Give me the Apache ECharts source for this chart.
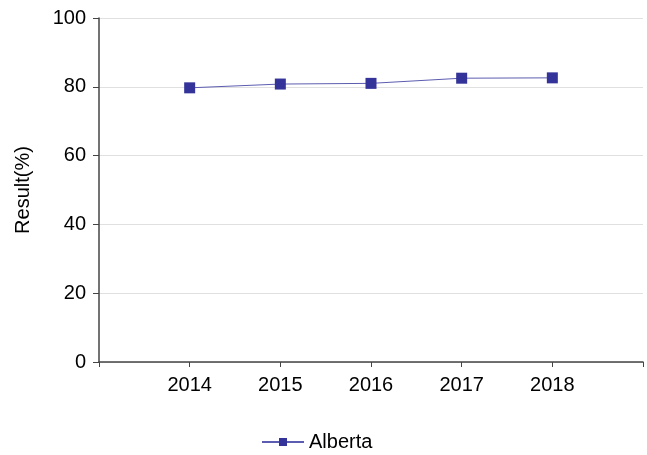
<!DOCTYPE html>
<html>
<head>
<meta charset="utf-8">
<script src="https://cdn.jsdelivr.net/npm/echarts@6/dist/echarts.min.js"></script>
<style>
  html, body { margin: 0; padding: 0; background: #fff; }
  #chart { width: 647px; height: 455px; }
</style>
</head>
<body>
<div id="chart"></div>
<script>
// data
const years = [2014, 2015, 2016, 2017, 2018];
const albertaValues = [79.7, 80.8, 81.0, 82.5, 82.6];
const yTicks = [0, 20, 40, 60, 80, 100];

const FONT = 'Liberation Sans, Arial, sans-serif';
const chart = echarts.init(document.getElementById('chart'));

const option = {
    animation: false,
    grid: { left: 99, right: 4, top: 18, bottom: 93 },
    legend: {
        top: 427,
        left: 256,
        itemWidth: 42,
        itemHeight: 10,
        itemGap: 10,
        textStyle: { fontFamily: FONT, fontSize: 20, color: '#000' },
        data: ['Alberta']
    },
    xAxis: {
        type: 'value',
        min: years[0] - 1,
        max: years[years.length - 1] + 1,
        interval: 1,
        axisLine: { lineStyle: { color: '#444', width: 1.5 } },
        axisTick: { show: true, length: 5, lineStyle: { color: '#444' } },
        splitLine: { show: false },
        axisLabel: {
            margin: 13,
            fontFamily: FONT,
            fontSize: 20,
            color: '#000',
            formatter: v => years.includes(v) ? String(v) : ''
        }
    },
    yAxis: {
        type: 'value',
        min: yTicks[0],
        max: yTicks[yTicks.length - 1],
        interval: 20,
        name: 'Result(%)',
        nameLocation: 'middle',
        nameGap: 66,
        nameTextStyle: { fontFamily: FONT, fontSize: 20, color: '#000' },
        axisLine: { show: true, lineStyle: { color: '#444', width: 1.5 } },
        axisTick: { show: true, length: 6, lineStyle: { color: '#444' } },
        splitLine: { lineStyle: { color: '#e0e0e0' } },
        axisLabel: { margin: 13, fontFamily: FONT, fontSize: 20, color: '#000' }
    },
    series: [{
        name: 'Alberta',
        type: 'line',
        data: years.map((y, i) => [y, albertaValues[i]]),
        symbol: 'rect',
        symbolSize: 11,
        lineStyle: { color: '#5c5cb0', width: 1 },
        itemStyle: { color: '#333399' }
    }]
};

chart.setOption(option);
</script>
</body>
</html>
